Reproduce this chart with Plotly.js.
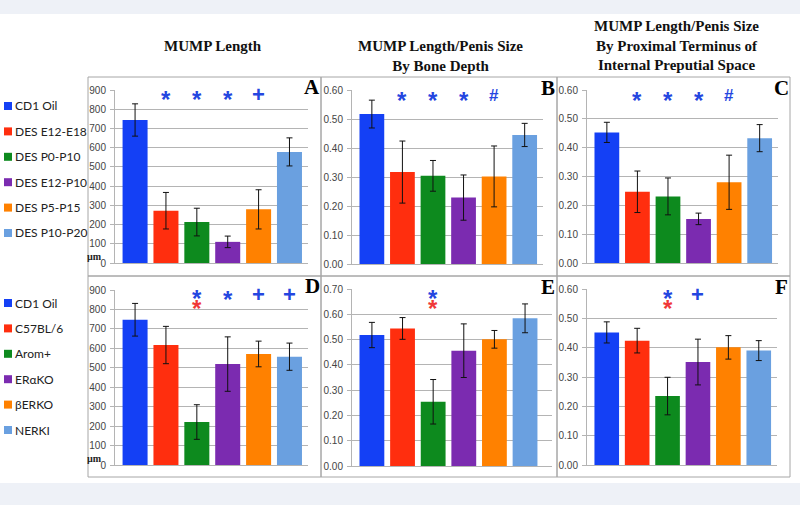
<!DOCTYPE html>
<html><head><meta charset="utf-8">
<script src="https://cdn.plot.ly/plotly-3.0.1.min.js"></script>
<style>html,body{margin:0;padding:0;background:#fff}#chart{width:800px;height:505px}</style>
</head><body><div id="chart"></div>
<script>
// ---- data ----
const groupsTop = ['CD1 Oil', 'DES E12-E18', 'DES P0-P10', 'DES E12-P10', 'DES P5-P15', 'DES P10-P20'];
const groupsBottom = ['CD1 Oil', 'C57BL/6', 'Arom+', 'ERαKO', 'βERKO', 'NERKI'];
const barColors = ['#1440f5', '#ff2e0e', '#0d8a1e', '#7b2bb0', '#ff8100', '#6aa0e0'];

const lengthA = [744, 272, 213, 110, 279, 578];
const errA    = [84, 95, 72, 30, 102, 73];
const boneB   = [0.517, 0.317, 0.304, 0.229, 0.302, 0.445];
const errB    = [0.048, 0.107, 0.053, 0.078, 0.105, 0.040];
const ipsC    = [0.453, 0.247, 0.231, 0.153, 0.280, 0.433];
const errC    = [0.035, 0.072, 0.064, 0.020, 0.094, 0.047];
const lengthD = [747, 617, 221, 519, 571, 557];
const errD    = [84, 96, 89, 140, 66, 70];
const boneE   = [0.518, 0.544, 0.254, 0.456, 0.501, 0.584];
const errE    = [0.050, 0.043, 0.088, 0.106, 0.035, 0.057];
const ipsF    = [0.452, 0.424, 0.235, 0.351, 0.401, 0.390];
const errF    = [0.036, 0.042, 0.064, 0.078, 0.040, 0.034];

const sigBlueA = ['', '*', '*', '*', '+', ''];
const sigBlueB = ['', '*', '*', '*', '#', ''];
const sigBlueC = ['', '*', '*', '*', '#', ''];
const sigBlueD = ['', '', '*', '*', '+', '+'];
const sigRedD  = ['', '', '*', '', '', ''];
const sigBlueE = ['', '', '*', '', '', ''];
const sigRedE  = ['', '', '*', '', '', ''];
const sigBlueF = ['', '', '*', '+', '', ''];
const sigRedF  = ['', '', '*', '', '', ''];

const titleA = 'MUMP Length';
const titleB = 'MUMP Length/Penis Size<br>By Bone Depth';
const titleC = 'MUMP Length/Penis Size<br>By Proximal Terminus of<br>Internal Preputial Space';
const unitLabel = 'µm';

// ---- layout helpers ----
const W = 800, H = 505;
const px = x => x / W;
const py = y => 1 - y / H;

const panels = [
  {id: 'A', cats: groupsTop, vals: lengthA, errs: errA, yr: [0, 900], dt: 100, fmt: 'd',
   xd: [115, 308], yd: [90, 263], xr: [-0.65, 5.6], blue: sigBlueA, red: null, sy: 95, letter: [312, 87], unit: [94, 256]},
  {id: 'B', cats: groupsTop, vals: boneB, errs: errB, yr: [0, 0.6], dt: 0.1, fmt: '.2f',
   xd: [352, 543], yd: [90, 264], xr: [-0.65, 5.6], blue: sigBlueB, red: null, sy: 96, letter: [548, 88]},
  {id: 'C', cats: groupsTop, vals: ipsC, errs: errC, yr: [0, 0.6], dt: 0.1, fmt: '.2f',
   xd: [587, 778], yd: [90, 263], xr: [-0.65, 5.6], blue: sigBlueC, red: null, sy: 96, letter: [781, 88]},
  {id: 'D', cats: groupsBottom, vals: lengthD, errs: errD, yr: [0, 900], dt: 100, fmt: 'd',
   xd: [115, 308], yd: [290, 465], xr: [-0.65, 5.6], blue: sigBlueD, red: sigRedD, sy: 294, letter: [312, 286], unit: [94, 458]},
  {id: 'E', cats: groupsBottom, vals: boneE, errs: errE, yr: [0, 0.7], dt: 0.1, fmt: '.2f',
   xd: [352, 552], yd: [289, 466], xr: [-0.65, 5.88], blue: sigBlueE, red: sigRedE, sy: 294, letter: [548, 287]},
  {id: 'F', cats: groupsBottom, vals: ipsF, errs: errF, yr: [0, 0.6], dt: 0.1, fmt: '.2f',
   xd: [587, 777], yd: [289, 465], xr: [-0.65, 5.6], blue: sigBlueF, red: sigRedF, sy: 294, letter: [781, 287]}
];

const data = [];
const layout = {
  width: W, height: H,
  margin: {l: 0, r: 0, t: 0, b: 0},
  paper_bgcolor: '#ffffff', plot_bgcolor: 'rgba(0,0,0,0)',
  showlegend: false,
  bargap: 0.19,
  shapes: [], annotations: []
};

const gridCol = '#b4b4b4';
const tickFont = {family: 'Liberation Sans, Arial, sans-serif', size: 10, color: '#444'};
const blueSig = '#2446e0', redSig = '#f03838';

panels.forEach((p, i) => {
  const n = i + 1;
  const xa = 'xaxis' + (n === 1 ? '' : n), ya = 'yaxis' + (n === 1 ? '' : n);
  const xr = 'x' + (n === 1 ? '' : n), yr = 'y' + (n === 1 ? '' : n);
  data.push({
    type: 'bar', x: p.cats, y: p.vals, xaxis: xr, yaxis: yr,
    marker: {color: barColors, line: {width: 0}},
    error_y: {type: 'data', array: p.errs, visible: true, color: '#111', thickness: 1, width: 3},
    hoverinfo: 'x+y'
  });
  layout[xa] = {
    domain: [px(p.xd[0]), px(p.xd[1])], anchor: yr, type: 'category', range: p.xr,
    showticklabels: false, ticks: '', showgrid: false, zeroline: false,
    showline: true, linecolor: gridCol, linewidth: 1, fixedrange: true
  };
  layout[ya] = {
    domain: [py(p.yd[1]), py(p.yd[0])], anchor: xr, range: p.yr, dtick: p.dt, tick0: 0,
    tickformat: p.fmt, showgrid: true, gridcolor: gridCol, gridwidth: 1, zeroline: false,
    showline: true, linecolor: gridCol, linewidth: 1, ticks: 'outside', ticklen: 4,
    tickcolor: gridCol, tickfont: tickFont, ticklabelstandoff: 2, fixedrange: true
  };
  // significance markers (blue, with red stacked beneath when present)
  p.blue.forEach((s, k) => {
    const r = p.red ? p.red[k] : '';
    if (!s && !r) return;
    if (r) {
      const txt = `<span style="color:${blueSig};font-size:24px">${s}</span><br>` +
                  `<span style="color:${redSig};font-size:24px">${r}</span>`;
      layout.annotations.push({
        xref: xr, yref: 'paper', x: k, y: py(p.sy + 9), text: txt, showarrow: false,
        yanchor: 'middle', xanchor: 'center',
        font: {family: 'Liberation Sans, Arial, sans-serif', size: 8, color: blueSig, weight: 'bold'}
      });
      return;
    }
    const isStar = s === '*';
    layout.annotations.push({
      xref: xr, yref: 'paper', x: k, y: py(p.sy + (isStar ? 5 : 0)), text: s, showarrow: false,
      yanchor: 'middle', xanchor: 'center',
      font: {family: 'Liberation Sans, Arial, sans-serif', size: isStar ? 24 : (s === '#' ? 17 : 22), color: blueSig, weight: 'bold'}
    });
  });
  // panel letter
  layout.annotations.push({
    xref: 'paper', yref: 'paper', x: px(p.letter[0]), y: py(p.letter[1]), text: p.id,
    showarrow: false, xanchor: 'center', yanchor: 'middle',
    font: {family: 'Liberation Serif, Times New Roman, serif', size: 21, color: '#000', weight: 'bold'}
  });
  if (p.unit) layout.annotations.push({
    xref: 'paper', yref: 'paper', x: px(p.unit[0]), y: py(p.unit[1]), text: unitLabel,
    showarrow: false, xanchor: 'center', yanchor: 'middle',
    font: {family: 'Liberation Serif, serif', size: 10, color: '#222', weight: 'bold'}
  });
});

// background strips
layout.shapes.push({type: 'rect', xref: 'paper', yref: 'paper', x0: 0, x1: 1, y0: py(14), y1: 1,
  fillcolor: '#eef1f7', line: {width: 0}, layer: 'below'});
layout.shapes.push({type: 'rect', xref: 'paper', yref: 'paper', x0: 0, x1: 1, y0: 0, y1: py(483),
  fillcolor: '#eef1f7', line: {width: 0}, layer: 'below'});
// panel boxes
const colsX = [88, 321, 557, 790], rowsY = [77, 276, 477];
for (let r = 0; r < 2; r++) for (let c = 0; c < 3; c++) {
  layout.shapes.push({type: 'rect', xref: 'paper', yref: 'paper',
    x0: px(colsX[c]), x1: px(colsX[c + 1]), y0: py(rowsY[r + 1]), y1: py(rowsY[r]),
    line: {color: '#a6a6a6', width: 1}, fillcolor: 'rgba(0,0,0,0)', layer: 'below'});
}

// column titles
const titleFont = {family: 'Liberation Serif, Times New Roman, serif', size: 15, color: '#111', weight: 'bold'};
[[titleA, 213, 46], [titleB, 440, 56], [titleC, 676, 46]].forEach(t => {
  layout.annotations.push({xref: 'paper', yref: 'paper', x: px(t[1]), y: py(t[2]), text: t[0],
    showarrow: false, xanchor: 'center', yanchor: 'middle', font: titleFont});
});

// legends (text + colour squares)
const legendFont = {family: 'Lato, Open Sans, sans-serif', size: 12, color: '#222'};
[[groupsTop, 106], [groupsBottom, 303]].forEach(([names, y0]) => {
  names.forEach((nm, k) => {
    const yy = y0 + k * 25.4;
    layout.shapes.push({type: 'rect', xref: 'paper', yref: 'paper',
      x0: px(4), x1: px(12), y0: py(yy + 4), y1: py(yy - 4), fillcolor: barColors[k], line: {width: 0}});
    layout.annotations.push({xref: 'paper', yref: 'paper', x: px(13), y: py(yy), text: nm,
      showarrow: false, xanchor: 'left', yanchor: 'middle', font: legendFont});
  });
});

Plotly.newPlot('chart', data, layout, {staticPlot: true, displayModeBar: false});
</script></body></html>
